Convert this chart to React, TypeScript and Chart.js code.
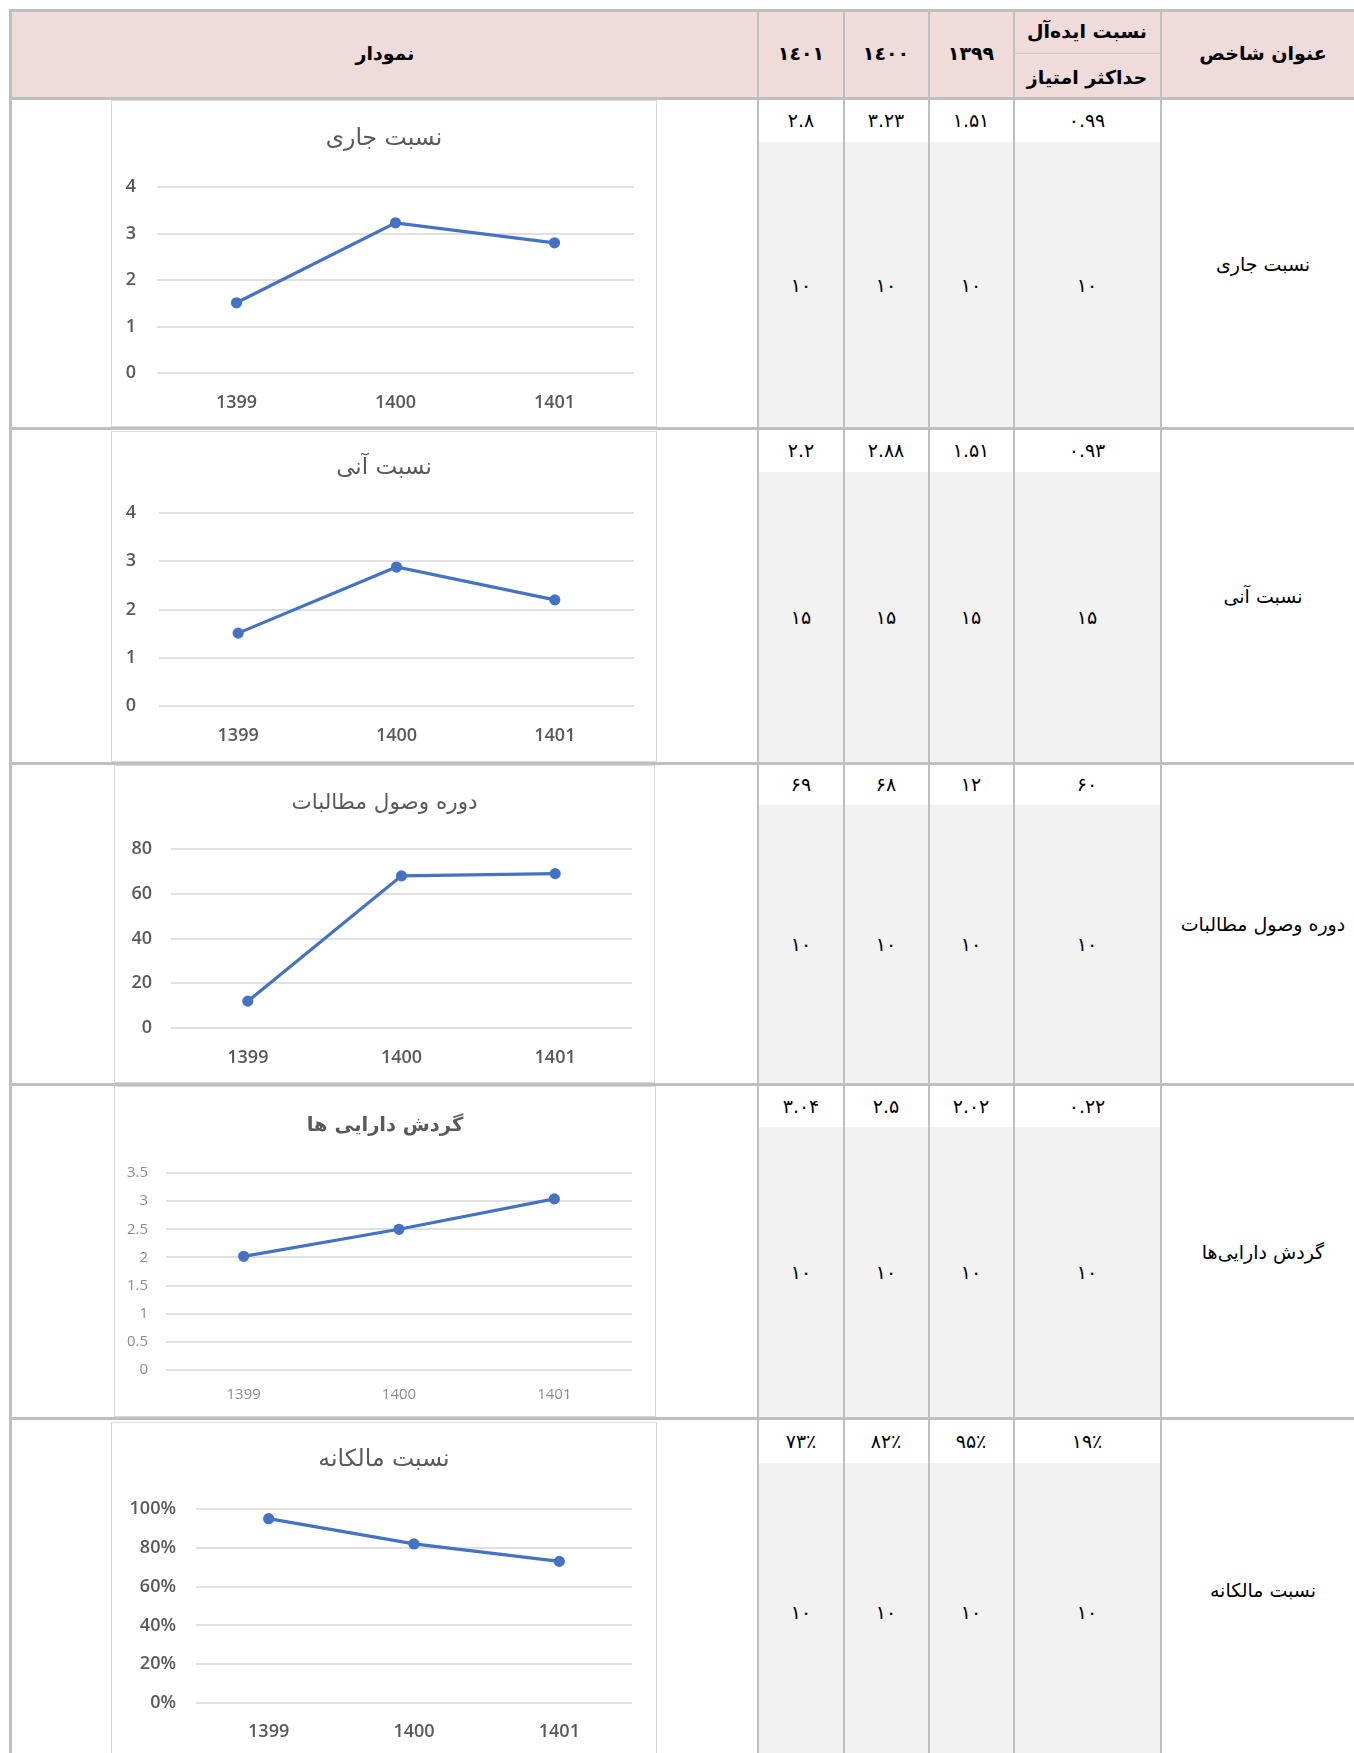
import React, { useEffect, useRef } from "react";
import { Chart, registerables } from "chart.js";

Chart.register(...registerables);

// ---------- data ----------
const years = ["1399", "1400", "1401"];
const currentRatio = [1.51, 3.23, 2.8];
const quickRatio = [1.51, 2.88, 2.2];
const collectionPeriod = [12, 68, 69];
const assetTurnover = [2.02, 2.5, 3.04];
const equityRatio = [0.95, 0.82, 0.73];

const indicatorNames = ["نسبت جاری", "نسبت آنی", "دوره وصول مطالبات", "گردش دارایی‌ها", "نسبت مالکانه"];
const chartTitles = ["نسبت جاری", "نسبت آنی", "دوره وصول مطالبات", "گردش دارایی ها", "نسبت مالکانه"];
const idealValues = ["0.99", "0.93", "60", "0.22", "19%"];
const maxScores = [10, 15, 10, 10, 10];
const yAxisMax = [4, 4, 80, 3.5, 1];
const yAxisStep = [1, 1, 20, 0.5, 0.2];
const percentRows = [false, false, false, false, true];

const headerTitle = "عنوان شاخص";
const headerIdeal = "نسبت ایده‌آل";
const headerMax = "حداکثر امتیاز";
const headerChart = "نمودار";

const seriesList = [currentRatio, quickRatio, collectionPeriod, assetTurnover, equityRatio];

// ---------- helpers ----------
const FA = "۰۱۲۳۴۵۶۷۸۹";
function toFa(s: string, arabicFour = false) {
  return s
    .replace(/[0-9]/g, (d) => (arabicFour && d === "4" ? "٤" : FA[+d]))
    .replace(/%/g, "٪");
}
function fmtVal(v: number, pct: boolean) {
  return pct ? Math.round(v * 100) + "%" : String(v);
}

// ---------- layout ----------
const LINE = "#bfbfbf";
const PINK = "#f0dbdb";
const GRAY = "#f2f2f2";
const FONT = "'DejaVu Sans', sans-serif";

const colX = { left: 9, c1: 757, c2: 843, c3: 928, c4: 1013, c5: 1160 };
const colCenters = { y1401: 801, y1400: 886, y1399: 971, ideal: 1087, name: 1263, chart: 385 };
const rowTops = [100, 430, 765, 1086, 1420];
const rowLines = [427, 762, 1083, 1417, 1760];
const whiteEnds = [142, 472, 805, 1127, 1463];

type Spec = {
  x: number; y: number; w: number; h: number;
  titleY: number; gridTop: number; gridBottom: number; xLabelY: number;
  plotLeft: number; plotRight: number; labelRight: number;
  tickSize: number; tickWeight: string; tickColor: string;
  titleSize: number; titleWeight: string;
};

const specs: Spec[] = [
  { x: 111, y: 100, w: 546, h: 327, titleY: 139, gridTop: 187, gridBottom: 373, xLabelY: 403, plotLeft: 157, plotRight: 634, labelRight: 136, tickSize: 18, tickWeight: "600", tickColor: "#595959", titleSize: 23.5, titleWeight: "normal" },
  { x: 111, y: 431, w: 546, h: 331, titleY: 468, gridTop: 513, gridBottom: 706, xLabelY: 736, plotLeft: 159, plotRight: 634, labelRight: 136, tickSize: 18, tickWeight: "600", tickColor: "#595959", titleSize: 23, titleWeight: "normal" },
  { x: 114, y: 765, w: 541, h: 318, titleY: 803, gridTop: 849, gridBottom: 1028, xLabelY: 1058, plotLeft: 171, plotRight: 632, labelRight: 152, tickSize: 18, tickWeight: "600", tickColor: "#595959", titleSize: 21.5, titleWeight: "normal" },
  { x: 114, y: 1086, w: 542, h: 331, titleY: 1126, gridTop: 1173, gridBottom: 1370, xLabelY: 1395, plotLeft: 166, plotRight: 632, labelRight: 148, tickSize: 15, tickWeight: "normal", tickColor: "#8c8c8c", titleSize: 19.5, titleWeight: "bold" },
  { x: 111, y: 1422, w: 546, h: 340, titleY: 1460, gridTop: 1509, gridBottom: 1703, xLabelY: 1732, plotLeft: 196, plotRight: 632, labelRight: 176, tickSize: 18, tickWeight: "600", tickColor: "#595959", titleSize: 23.5, titleWeight: "normal" },
];

function LineChart({ idx }: { idx: number }) {
  const ref = useRef<HTMLCanvasElement>(null);
  const spec = specs[idx];
  const innerX = spec.x + 1;
  const innerY = spec.y + 1;
  const W = spec.w - 2;
  const H = spec.h - 2;

  useEffect(() => {
    if (!ref.current) return;
    const titleSize = spec.titleSize;
    const titleLH = titleSize * 1.2;
    const T = spec.titleY - innerY - titleLH / 2;
    const gridTop = spec.gridTop - innerY;
    const gridBottom = spec.gridBottom - innerY;
    const titlePadBottom = gridTop - T - titleLH;
    const xAxisH = H - gridBottom;
    const tickLH = spec.tickSize * 1.2;
    const xPad = spec.xLabelY - innerY - gridBottom - tickLH / 2;
    const plotLeft = spec.plotLeft - innerX;
    const plotRight = spec.plotRight - innerX;
    const rightSpace = W - plotRight;
    const yPad = spec.plotLeft - spec.labelRight;
    const pct = percentRows[idx];
    const tickFont = { family: "'Open Sans', sans-serif", size: spec.tickSize, weight: spec.tickWeight as any, lineHeight: 1.2 };

    const chart = new Chart(ref.current, {
      type: "line",
      data: {
        labels: years,
        datasets: [
          {
            data: seriesList[idx],
            borderColor: "#4472c4",
            backgroundColor: "#4472c4",
            borderWidth: 3.2,
            pointRadius: 4,
            pointBackgroundColor: "#4472c4",
            pointBorderColor: "#4472c4",
            tension: 0,
            fill: false,
            yAxisID: "y",
          },
        ],
      },
      options: {
        responsive: false,
        animation: false,
        devicePixelRatio: 1,
        layout: { padding: { top: T, left: 0, right: 0, bottom: 0 } },
        plugins: {
          legend: { display: false },
          tooltip: { enabled: false },
          title: {
            display: true,
            text: chartTitles[idx],
            color: "#595959",
            font: { family: FONT, size: titleSize, weight: spec.titleWeight as any, lineHeight: 1.2 },
            padding: { top: 0, bottom: titlePadBottom },
          },
        },
        scales: {
          x: {
            offset: true,
            grid: { display: false, drawTicks: false },
            border: { display: false },
            ticks: { color: spec.tickColor, padding: xPad, font: tickFont },
            afterFit: (s: any) => {
              s.height = xAxisH;
            },
          },
          y: {
            position: "left",
            min: 0,
            max: yAxisMax[idx],
            grid: { color: "#e0e0e0", lineWidth: 2, drawTicks: false },
            border: { display: false },
            ticks: {
              stepSize: yAxisStep[idx],
              color: spec.tickColor,
              padding: yPad,
              font: tickFont,
              callback: (v: any) => (pct ? Math.round(Number(v) * 100) + "%" : String(Number(v))),
            },
            afterFit: (s: any) => {
              s.width = plotLeft;
            },
          },
          yRight: {
            position: "right",
            min: 0,
            max: yAxisMax[idx],
            grid: { display: false, drawTicks: false },
            border: { display: false },
            ticks: { display: false },
            afterFit: (s: any) => {
              s.width = rightSpace;
            },
          },
        },
      },
    });
    return () => chart.destroy();
  }, []);

  return (
    <div
      style={{
        position: "absolute",
        left: spec.x,
        top: spec.y,
        width: W,
        height: H,
        border: "1px solid #d9d9d9",
        background: "#fff",
      }}
    >
      <canvas ref={ref} width={W} height={H} style={{ display: "block", width: W, height: H }} />
    </div>
  );
}

function Txt({ x, y, children, bold = false, size = 19 }: any) {
  return (
    <div
      style={{
        position: "absolute",
        left: x,
        top: y,
        transform: "translate(-50%, -50%)",
        whiteSpace: "nowrap",
        direction: "rtl",
        fontFamily: FONT,
        fontSize: size,
        fontWeight: bold ? "bold" : "normal",
        color: "#000",
        lineHeight: 1.2,
      }}
    >
      {children}
    </div>
  );
}

function Box({ x, y, w, h, c }: any) {
  return <div style={{ position: "absolute", left: x, top: y, width: w, height: h, background: c }} />;
}

export default function App() {
  const vLines = [colX.c1, colX.c2, colX.c3, colX.c4, colX.c5];
  const hLines = [9, 97, ...rowLines];
  return (
    <div
      style={{
        position: "absolute",
        left: 0,
        top: 0,
        width: 1354,
        height: 1753,
        overflow: "hidden",
        background: "#fff",
      }}
    >
      {/* header background */}
      <Box x={12} y={12} w={1342} h={85} c={PINK} />
      {/* gray value cells */}
      {rowTops.map((t, i) => (
        <Box key={"g" + i} x={colX.c1} y={whiteEnds[i]} w={colX.c5 - colX.c1} h={rowLines[i] - whiteEnds[i]} c={GRAY} />
      ))}
      {/* charts */}
      {specs.map((_, i) => (
        <LineChart key={"c" + i} idx={i} />
      ))}
      {/* grid lines */}
      <Box x={colX.left} y={9} w={3} h={1760} c={LINE} />
      {vLines.map((x, i) => (
        <Box key={"v" + i} x={x} y={9} w={2} h={1760} c={LINE} />
      ))}
      {hLines.map((y, i) => (
        <Box key={"h" + i} x={9} y={y} w={1345} h={3} c={LINE} />
      ))}
      <Box x={colX.c4} y={53} w={colX.c5 - colX.c4} h={1} c="#c9c9c9" />

      {/* header text */}
      <Txt x={colCenters.name} y={53} bold>{headerTitle}</Txt>
      <Txt x={colCenters.ideal} y={31} bold>{headerIdeal}</Txt>
      <Txt x={colCenters.ideal} y={77} bold>{headerMax}</Txt>
      <Txt x={colCenters.y1399} y={53} bold>{toFa(years[0], true)}</Txt>
      <Txt x={colCenters.y1400} y={53} bold>{toFa(years[1], true)}</Txt>
      <Txt x={colCenters.y1401} y={53} bold>{toFa(years[2], true)}</Txt>
      <Txt x={colCenters.chart} y={53} bold>{headerChart}</Txt>

      {/* rows */}
      {rowTops.map((t, i) => {
        const s = seriesList[i];
        const pct = percentRows[i];
        const topY = (t + whiteEnds[i]) / 2 - 1;
        const midY = (whiteEnds[i] + rowLines[i]) / 2;
        const nameY = (t + rowLines[i]) / 2;
        return (
          <React.Fragment key={"r" + i}>
            <Txt x={colCenters.name} y={nameY}>{indicatorNames[i]}</Txt>
            <Txt x={colCenters.ideal} y={topY}>{toFa(idealValues[i])}</Txt>
            <Txt x={colCenters.y1399} y={topY}>{toFa(fmtVal(s[0], pct))}</Txt>
            <Txt x={colCenters.y1400} y={topY}>{toFa(fmtVal(s[1], pct))}</Txt>
            <Txt x={colCenters.y1401} y={topY}>{toFa(fmtVal(s[2], pct))}</Txt>
            {[colCenters.ideal, colCenters.y1399, colCenters.y1400, colCenters.y1401].map((cx, j) => (
              <Txt key={j} x={cx} y={midY}>{toFa(String(maxScores[i]))}</Txt>
            ))}
          </React.Fragment>
        );
      })}
    </div>
  );
}
